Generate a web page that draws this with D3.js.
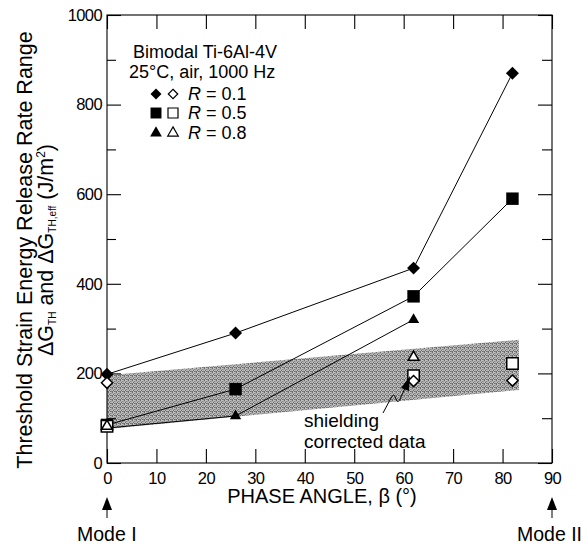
<!DOCTYPE html>
<html><head><meta charset="utf-8">
<script src="https://cdn.jsdelivr.net/npm/d3@7"></script>
<style>
body{margin:0;background:#fff;}
text{font-family:"Liberation Sans",Arial,Helvetica,sans-serif;fill:#000;}
</style></head>
<body><svg id="c" width="581" height="544"></svg>
<script>
// ---- data ----
const phaseFilled01 = [0, 26, 62, 82];
const r01Filled = [198, 290, 435, 870];
const phaseFilled05 = [0, 26, 62, 82];
const r05Filled = [85, 165, 372, 590];
const phaseFilled08 = [0, 26, 62];
const r08Filled = [78, 105, 320];
const phaseOpen01 = [0, 62, 82];
const r01Open = [179, 183, 184];
const phaseOpen05 = [0, 62, 82];
const r05Open = [82, 195, 222];
const phaseOpen08 = [0, 62];
const r08Open = [82, 236];
const bandPhase = [0, 83.3];
const bandLow = [76, 163];
const bandHigh = [196, 275];
const xTicks = [0, 10, 20, 30, 40, 50, 60, 70, 80, 90];
const yTicks = [0, 200, 400, 600, 800, 1000];
const yMinor = [100, 300, 500, 700, 900];

const svg = d3.select("#c");
const x = d3.scaleLinear().domain([0, 90]).range([107, 552]);
const y = d3.scaleLinear().domain([0, 1000]).range([463, 15]);

const diamond = {draw(ctx, size){ const r = Math.sqrt(size/2); ctx.moveTo(0,-r); ctx.lineTo(r,0); ctx.lineTo(0,r); ctx.lineTo(-r,0); ctx.closePath(); }};

// band pattern
const defs = svg.append("defs");
const pat = defs.append("pattern").attr("id","stip").attr("patternUnits","userSpaceOnUse").attr("width",4).attr("height",4);
pat.append("rect").attr("width",4).attr("height",4).attr("fill","#c2c2c2");
[[0,0],[2,1],[1,2],[3,3],[0,3],[2,3]].forEach(p=>pat.append("rect").attr("x",p[0]).attr("y",p[1]).attr("width",1).attr("height",1).attr("fill","#6a6a6a"));
pat.append("rect").attr("x",0).attr("y",1).attr("width",4).attr("height",0.5).attr("fill","#959595");
pat.append("rect").attr("x",3).attr("y",0).attr("width",0.5).attr("height",4).attr("fill","#9a9a9a");

const bandData = bandPhase.map((p,i)=>({p, lo: bandLow[i], hi: bandHigh[i]}));
svg.append("path").datum(bandData)
  .attr("d", d3.area().x(d=>x(d.p)).y0(d=>y(d.lo)).y1(d=>y(d.hi)))
  .attr("fill","url(#stip)");

// frame
svg.append("rect").attr("x",x(0)).attr("y",y(1000)).attr("width",x(90)-x(0)).attr("height",y(0)-y(1000))
  .attr("fill","none").attr("stroke","#000").attr("stroke-width",1.1);

// axes
const fontTick = 16.5;
svg.append("g").attr("transform",`translate(0,${y(0)})`)
  .call(d3.axisBottom(x).tickValues(xTicks).tickSize(-14).tickPadding(9).tickFormat(d3.format("d")));
svg.append("g").attr("transform",`translate(${x(0)},0)`)
  .call(d3.axisLeft(y).tickValues(yTicks).tickSize(-14).tickPadding(5).tickFormat(d3.format("d")));
svg.append("g").attr("transform",`translate(${x(0)},0)`)
  .call(d3.axisLeft(y).tickValues(yMinor).tickSize(-9).tickFormat(""));
svg.append("g").attr("transform",`translate(0,${y(1000)})`)
  .call(d3.axisTop(x).tickValues(xTicks).tickSize(-14).tickFormat(""));
svg.append("g").attr("transform",`translate(${x(90)},0)`)
  .call(d3.axisRight(y).tickValues(yTicks).tickSize(-14).tickFormat(""));
svg.append("g").attr("transform",`translate(${x(90)},0)`)
  .call(d3.axisRight(y).tickValues(yMinor).tickSize(-10).tickFormat(""));
svg.selectAll(".domain").remove();
svg.selectAll(".tick line").attr("stroke","#000").attr("stroke-width",1.1);
svg.selectAll(".tick text").attr("font-size",fontTick).attr("font-family","Liberation Sans, Arial, sans-serif").attr("fill","#000").attr("letter-spacing","-0.6");

// lines
const line = d3.line().x(d=>x(d[0])).y(d=>y(d[1]));
const seriesF = [
  {p: phaseFilled01, v: r01Filled, sym: diamond, size: 84},
  {p: phaseFilled05, v: r05Filled, sym: d3.symbolSquare, size: 155},
  {p: phaseFilled08, v: r08Filled, sym: d3.symbolTriangle, size: 55},
];
seriesF.forEach(s=>{
  svg.append("path").datum(s.p.map((p,i)=>[p,s.v[i]])).attr("d",line)
    .attr("fill","none").attr("stroke","#000").attr("stroke-width",1);
});
seriesF.forEach(s=>{
  svg.append("g").selectAll("path").data(s.p.map((p,i)=>[p,s.v[i]])).join("path")
    .attr("transform",d=>`translate(${x(d[0])},${y(d[1])})`)
    .attr("d",d3.symbol().type(s.sym).size(s.size)).attr("fill","#000");
});
const seriesO = [
  {p: phaseOpen05, v: r05Open, sym: d3.symbolSquare, size: 130},
  {p: phaseOpen08, v: r08Open, sym: d3.symbolTriangle, size: 50},
  {p: phaseOpen01, v: r01Open, sym: diamond, size: 62},
];
seriesO.forEach(s=>{
  svg.append("g").selectAll("path").data(s.p.map((p,i)=>[p,s.v[i]])).join("path")
    .attr("transform",d=>`translate(${x(d[0])},${y(d[1])})`)
    .attr("d",d3.symbol().type(s.sym).size(s.size)).attr("fill","#fff").attr("stroke","#000").attr("stroke-width",1.5);
});

// legend
const lg = svg.append("g");
lg.append("text").attr("x",133).attr("y",58).attr("font-size",18).text("Bimodal Ti-6Al-4V");
lg.append("text").attr("x",129).attr("y",78).attr("font-size",18).text("25°C, air, 1000 Hz");
const legRows = [
  {sym: diamond, sf: 60, so: 45, label: "0.1", yb: 100},
  {sym: d3.symbolSquare, sf: 120, so: 100, label: "0.5", yb: 119},
  {sym: d3.symbolTriangle, sf: 60, so: 48, label: "0.8", yb: 139},
];
legRows.forEach(r=>{
  lg.append("path").attr("transform",`translate(156,${r.yb-6})`).attr("d",d3.symbol().type(r.sym).size(r.sf)).attr("fill","#000");
  lg.append("path").attr("transform",`translate(173,${r.yb-6})`).attr("d",d3.symbol().type(r.sym).size(r.so)).attr("fill","#fff").attr("stroke","#000").attr("stroke-width",1.2);
  const t = lg.append("text").attr("x",188).attr("y",r.yb).attr("font-size",18);
  t.append("tspan").attr("font-style","italic").text("R");
  t.append("tspan").text(" = " + r.label);
});

// annotation
svg.append("text").attr("x",304).attr("y",427).attr("font-size",19).text("shielding");
svg.append("text").attr("x",304).attr("y",448).attr("font-size",19).text("corrected data");
svg.append("path").attr("d","M383,413 L391,398 Q394,392 396,399 Q398,405 401,397 L406,386")
  .attr("fill","none").attr("stroke","#000").attr("stroke-width",1);
svg.append("path").attr("d","M410,376 L401,388 L409,391 Z").attr("fill","#000");

// axis titles
svg.append("text").attr("x",322).attr("y",503).attr("text-anchor","middle").attr("font-size",20).text("PHASE ANGLE, β (°)");
const yt = svg.append("g").attr("transform","translate(32,250) rotate(-90)");
yt.append("text").attr("text-anchor","middle").attr("font-size",21.5).text("Threshold Strain Energy Release Rate Range");
const t2 = yt.append("text").attr("y",21).attr("text-anchor","middle").attr("font-size",21.5);
t2.append("tspan").text("ΔG");
t2.append("tspan").attr("font-size",10).attr("dy",3).text("TH");
t2.append("tspan").attr("dy",-3).text(" and ΔG");
t2.append("tspan").attr("font-size",10).attr("dy",3).text("TH,eff");
t2.append("tspan").attr("dy",-3).text(" (J/m");
t2.append("tspan").attr("font-size",12).attr("dy",-8).text("2");
t2.append("tspan").attr("dy",8).text(")");

// mode arrows
[0, 90].forEach(m=>{
  const cx = x(m);
  svg.append("line").attr("x1",cx).attr("x2",cx).attr("y1",518).attr("y2",505).attr("stroke","#000").attr("stroke-width",1);
  svg.append("path").attr("d",`M${cx},497 L${cx-5},510 L${cx+5},510 Z`).attr("fill","#000");
});
svg.append("text").attr("x",77).attr("y",541).attr("font-size",19.5).text("Mode I");
svg.append("text").attr("x",517).attr("y",541).attr("font-size",19.5).text("Mode II");
</script></body></html>
